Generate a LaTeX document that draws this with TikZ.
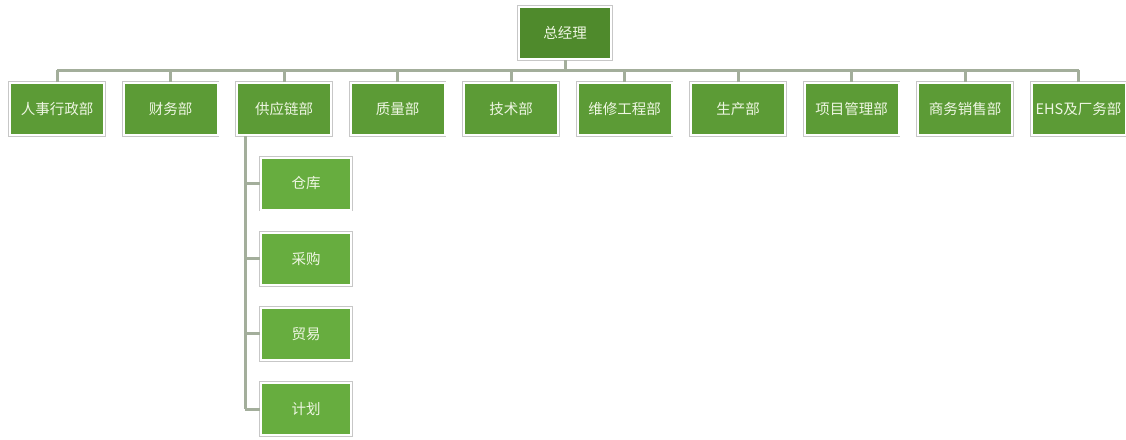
\documentclass[tikz,border=0pt]{standalone}
\usepackage{fontspec}
\newfontfamily\cjk{Noto Sans CJK SC}
\usepackage{tikz}
\usetikzlibrary{positioning}
\definecolor{topgreen}{HTML}{4F8A2C}
\definecolor{deptgreen}{HTML}{5C9B36}
\definecolor{subgreen}{HTML}{67AD3F}
\definecolor{linkgray}{HTML}{A3AE9B}
\definecolor{labelwhite}{HTML}{EEF6E2}
\tikzset{%
  every box/.style={
    rectangle,
    preaction={draw=black!22, line width=3.6pt},
    draw=white,
    line width=2pt,
    text=labelwhite,
    font=\cjk\fontsize{14.5}{16}\selectfont,
    inner sep=0pt
  },
  head box/.style={every box, fill=topgreen, minimum width=92pt, minimum height=52pt},
  dept box/.style={every box, fill=deptgreen, minimum width=94pt, minimum height=52pt},
  sub box/.style={every box, fill=subgreen, minimum width=90pt, minimum height=52pt},
  link/.style={draw=linkgray, line width=3pt}
}

\begin{document}
\begin{tikzpicture}[x=1pt, y=-1pt]
\useasboundingbox (0,0) rectangle (1126,439);
\node[head box] (boss) at (565,33) {总经理};
\coordinate (bus) at (565,70);
    \foreach \name [count=\i from 0] in {人事行政部,财务部,供应链部,质量部,技术部,维修工程部,生产部,项目管理部,商务销售部,EHS及厂务部}
        {\node[dept box] (dept_\i) at (57+113.5*\i,109){\name};
        \draw[link] (dept_\i.north) -- (dept_\i.north |- bus);}
\draw[link] (boss.south) -- (bus);
\draw[link] (dept_0.north |- bus) -- (dept_9.north |- bus);
% supply chain sub departments
\coordinate (spine) at (245,136);
    \foreach \name [count=\j from 0] in {仓库,采购,贸易,计划}
        {\node[sub box] (sub_\j) at (306,183.5+75.2*\j){\name};
        \draw[link] (sub_\j.west) -- (sub_\j.west -| spine);}
\draw[link] (spine) -- (sub_3.west -| spine);
\end{tikzpicture}
\end{document}
